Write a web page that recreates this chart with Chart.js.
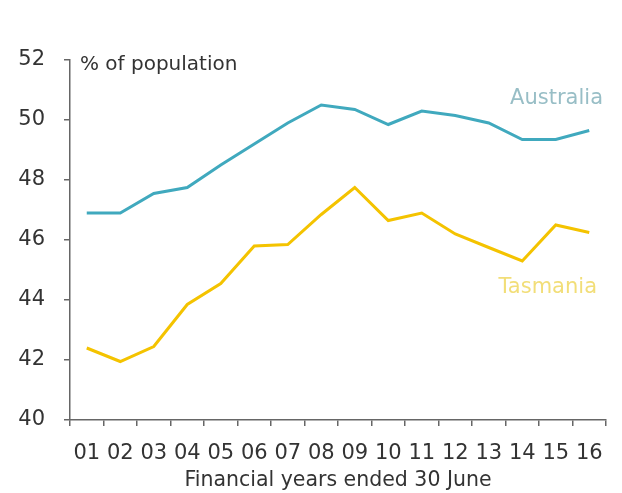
<!DOCTYPE html>
<html>
<head>
<meta charset="utf-8">
<script src="https://cdn.jsdelivr.net/npm/chart.js@4"></script>
<style>
  html, body { margin: 0; padding: 0; background: #fff; }
  #wrap { width: 622px; height: 493px; }
</style>
</head>
<body>
<div id="wrap"><canvas id="chart" width="622" height="493"></canvas></div>
<script>
const years = ["01","02","03","04","05","06","07","08","09","10","11","12","13","14","15","16"];
const australia = [46.9, 46.9, 47.55, 47.75, 48.5, 49.2, 49.9, 50.5, 50.35, 49.85, 50.3, 50.15, 49.9, 49.35, 49.35, 49.65];
const tasmania = [42.4, 41.95, 42.45, 43.85, 44.55, 45.8, 45.85, 46.85, 47.75, 46.65, 46.9, 46.2, 45.75, 45.3, 46.5, 46.25];
const yTicks = [40, 42, 44, 46, 48, 50, 52];

const FONT = "'DejaVu Sans', sans-serif";
const axisColor = "#666";

// text labels: unit at top left, series names near lines
const labelsPlugin = {
  id: "labels",
  afterDatasetsDraw(chart) {
    const ctx = chart.ctx;
    const x = chart.scales.x, y = chart.scales.y;
    ctx.save();
    ctx.textBaseline = "middle";
    ctx.font = "20px " + FONT;
    ctx.fillStyle = "#333";
    ctx.textAlign = "left";
    ctx.fillText("% of population", x.left + 10, y.getPixelForValue(51.83));
    ctx.textAlign = "right";
    ctx.font = "21px " + FONT;
    ctx.fillStyle = "#98bec6";
    ctx.fillText("Australia", x.right - 3, y.getPixelForValue(50.73));
    ctx.fillStyle = "#f2de78";
    ctx.fillText("Tasmania", x.right - 9, y.getPixelForValue(44.43));
    ctx.restore();
  }
};

new Chart(document.getElementById("chart"), {
  type: "line",
  data: {
    labels: years,
    datasets: [{
      label: "Australia",
      data: australia,
      borderColor: "#40a9be",
      borderWidth: 3,
      pointRadius: 0,
      tension: 0,
      fill: false
    }, {
      label: "Tasmania",
      data: tasmania,
      borderColor: "#f4c300",
      borderWidth: 3,
      pointRadius: 0,
      tension: 0,
      fill: false
    }]
  },
  options: {
    responsive: false,
    animation: false,
    layout: { padding: { top: 60, right: 16, left: 0, bottom: 0 } },
    plugins: { legend: { display: false }, tooltip: { enabled: false } },
    scales: {
      x: {
        offset: true,
        grid: { offset: true, drawOnChartArea: false, drawTicks: true, tickLength: 6, color: axisColor, lineWidth: 1.5 },
        border: { color: axisColor, width: 1.5 },
        ticks: { color: "#333", font: { family: FONT, size: 21 }, padding: 15, maxRotation: 0, autoSkip: false },
        title: { display: true, text: "Financial years ended 30 June", color: "#333", font: { family: FONT, size: 20.5 }, padding: { top: 0, bottom: 0 } },
        afterFit(scale) { scale.height = 73; }
      },
      y: {
        min: 40,
        max: 52,
        afterBuildTicks(scale) { scale.ticks = yTicks.map(v => ({ value: v })); },
        grid: { drawOnChartArea: false, drawTicks: true, tickLength: 6, color: axisColor, lineWidth: 1.5 },
        border: { color: axisColor, width: 1.5 },
        ticks: { color: "#333", font: { family: FONT, size: 21 }, padding: 19 },
        afterFit(scale) { scale.width = 70; }
      }
    }
  },
  plugins: [labelsPlugin]
});
</script>
</body>
</html>
